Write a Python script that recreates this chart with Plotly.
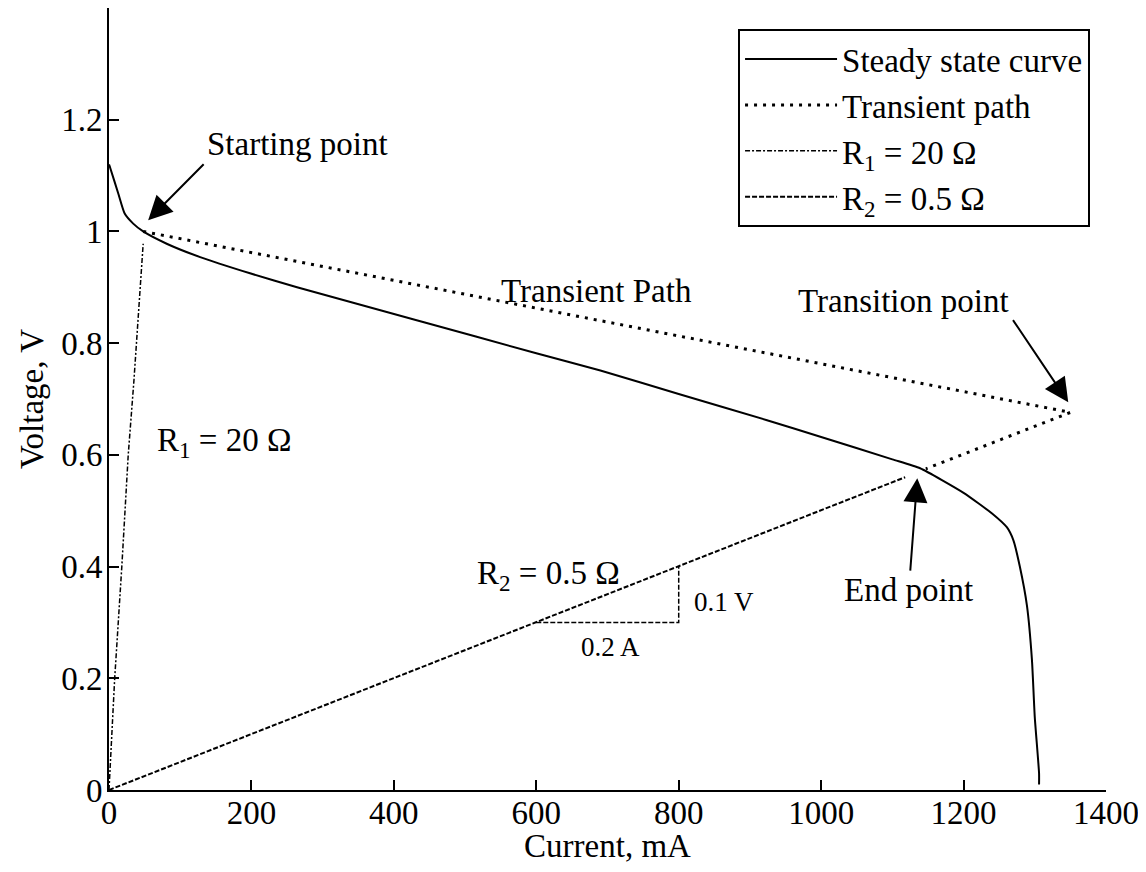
import plotly.graph_objects as go

# Steady state polarization curve (current mA, voltage V)
steady_x = [0, 1.4, 13, 22, 34, 48, 81, 128, 198, 264, 432, 600, 690, 800, 924, 1000, 1100, 1139, 1200, 1240, 1261, 1270, 1279, 1289, 1296, 1300, 1306, 1306]
steady_y = [1.12, 1.115, 1.068, 1.032, 1.014, 1.0, 0.978, 0.954, 0.925, 0.90, 0.841, 0.782, 0.751, 0.709, 0.662, 0.632, 0.592, 0.576, 0.532, 0.495, 0.47, 0.447, 0.40, 0.33, 0.233, 0.13, 0.03, 0.01]

# Transient path: starting point -> transition point -> end point
trans_x = [48, 1350, 1147]
trans_y = [1.0, 0.676, 0.575]

# Load line R1 = 20 ohm
r1_x = [0, 2, 8, 18, 27, 35, 48]
r1_y = [0.0, 0.05, 0.2, 0.4, 0.6, 0.733, 0.978]

# Load line R2 = 0.5 ohm
r2_x = [0, 1118]
r2_y = [0.0, 0.56]

# Slope triangle for R2
tri_x = [600, 800, 800]
tri_y = [0.3, 0.3, 0.4]

x_ticks = [0, 200, 400, 600, 800, 1000, 1200, 1400]
y_ticks = [0, 0.2, 0.4, 0.6, 0.8, 1.0, 1.2]
y_ticklabels = ["0", "0.2", "0.4", "0.6", "0.8", "1", "1.2"]

FONT = "Liberation Serif, Times New Roman, serif"
FS = 33

fig = go.Figure()
fig.add_trace(go.Scatter(x=steady_x, y=steady_y, mode="lines", name="Steady state curve",
                         line=dict(color="black", width=2, shape="spline", smoothing=0.5)))
fig.add_trace(go.Scatter(x=trans_x, y=trans_y, mode="lines", name="Transient path",
                         line=dict(color="black", width=3, dash="3px,6px")))
fig.add_trace(go.Scatter(x=r1_x, y=r1_y, mode="lines", name="R<sub>1</sub> = 20 Ω",
                         line=dict(color="black", width=1.5, dash="5px,2px,2px,2px")))
fig.add_trace(go.Scatter(x=r2_x, y=r2_y, mode="lines", name="R<sub>2</sub> = 0.5 Ω",
                         line=dict(color="black", width=2, dash="5px,2px")))
fig.add_trace(go.Scatter(x=tri_x, y=tri_y, mode="lines", showlegend=False,
                         line=dict(color="black", width=1.5, dash="5px,2px")))

annos = [
    dict(x=265, y=1.157, text="Starting point"),
    dict(x=685, y=0.894, text="Transient Path"),
    dict(x=1115, y=0.875, text="Transition point"),
    dict(x=1122, y=0.358, text="End point"),
    dict(x=161, y=0.622, text="R<sub>1</sub> = 20 Ω"),
    dict(x=617, y=0.384, text="R<sub>2</sub> = 0.5 Ω"),
    dict(x=864, y=0.336, text="0.1 V", size=27),
    dict(x=704, y=0.256, text="0.2 A", size=27),
]
for a in annos:
    fig.add_annotation(x=a["x"], y=a["y"], text=a["text"], showarrow=False,
                       xref="x", yref="y",
                       font=dict(family=FONT, size=a.get("size", FS), color="black"))

arrows = [
    ((135, 1.123), (55, 1.02)),
    ((1268, 0.844), (1347, 0.694)),
    ((1125, 0.39), (1135, 0.558)),
]
for (tx, ty), (hx, hy) in arrows:
    fig.add_annotation(x=hx, y=hy, ax=tx, ay=ty, xref="x", yref="y", axref="x", ayref="y",
                       text="", showarrow=True, arrowhead=2, arrowsize=2.4, arrowwidth=2,
                       arrowcolor="black", standoff=0)

fig.update_layout(
    width=1130, height=856,
    margin=dict(l=101, r=32, t=0, b=74),
    paper_bgcolor="white", plot_bgcolor="white",
    font=dict(family=FONT, size=FS, color="black"),
    showlegend=True,
    legend=dict(x=0.984, y=0.973, xanchor="right", yanchor="top",
                bordercolor="black", borderwidth=2, bgcolor="white",
                font=dict(family=FONT, size=FS, color="black"),
                itemwidth=92, tracegroupgap=0),
    xaxis=dict(range=[0, 1400], tickvals=x_ticks, ticks="inside", ticklen=10, tickwidth=2,
               tickcolor="black", showline=True, linecolor="black", linewidth=2,
               showgrid=False, zeroline=False, mirror=False, ticklabelstandoff=-8,
               ticklabeloverflow="allow",
               title=dict(text="Current, mA", font=dict(family=FONT, size=FS), standoff=2),
               tickfont=dict(family=FONT, size=FS)),
    yaxis=dict(range=[0, 1.4], tickvals=y_ticks, ticktext=y_ticklabels, ticks="inside",
               ticklen=10, tickwidth=2, tickcolor="black", showline=True, linecolor="black",
               linewidth=2, showgrid=False, zeroline=False, mirror=False, ticklabelstandoff=-2,
               ticklabeloverflow="allow",
               title=dict(text="Voltage, V", font=dict(family=FONT, size=FS), standoff=8),
               tickfont=dict(family=FONT, size=FS)),
)

fig.write_html("out.html")
